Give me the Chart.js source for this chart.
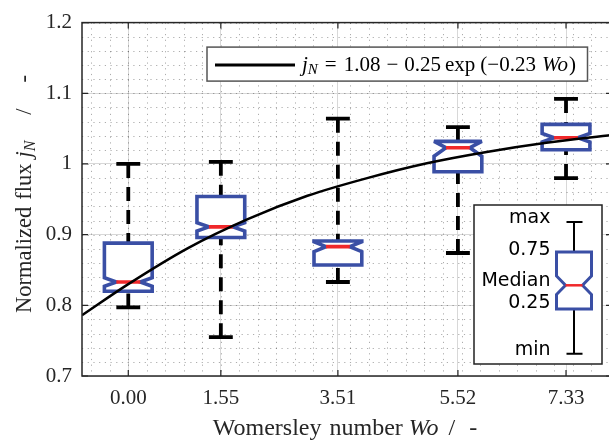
<!DOCTYPE html>
<html><head><meta charset="utf-8">
<script src="https://cdn.jsdelivr.net/npm/chart.js@4.4.1/dist/chart.umd.min.js"></script>
<style>html,body{margin:0;padding:0;overflow:hidden;background:#fff}#wrap{width:614px;height:441px}</style>
</head><body><div id="wrap"><canvas id="c" width="614" height="441"></canvas></div>
<script>
// ---- data ----
const categories = ['0.00', '1.55', '3.51', '5.52', '7.33'];
const womersley = [0, 1.55, 3.51, 5.52, 7.33];
const whiskerMax = [1.000, 1.003, 1.064, 1.052, 1.092];
const quart3 = [0.888, 0.954, 0.891, 1.032, 1.056];
const median = [0.833, 0.911, 0.883, 1.023, 1.037];
const quart1 = [0.820, 0.896, 0.857, 0.989, 1.020];
const whiskerMin = [0.797, 0.755, 0.833, 0.874, 0.980];
const notchHalf = [0.006, 0.006, 0.007, 0.012, 0.006];
const fitWo = [-0.775, 0, 1, 2, 3, 4, 5, 6, 7, 8.1];
const fitJn = [0.786, 0.830, 0.881, 0.922, 0.955, 0.980, 1.001, 1.017, 1.030, 1.041];
const yTicks = [0.7, 0.8, 0.9, 1.0, 1.1, 1.2];
const yTickLabels = ['0.7', '0.8', '0.9', '1', '1.1', '1.2'];
const keyLabels = ['max', '0.75', 'Median', '0.25', 'min'];
const minorStepX = 0.31, minorStepY = 0.02;

// ---- styles ----
const SERIF = "'Liberation Serif','Times New Roman',serif";
const SANS = "'DejaVu Sans',sans-serif";
const BLUE = '#3a4fa5', RED = '#f0282a', AXIS = '#262626';
const BOX_HALF = 0.4, CAP_HALF = 0.2;

function richWidth(ctx, segs) {
  let w = 0;
  for (const s of segs) { ctx.font = s.font; w += ctx.measureText(s.t).width + (s.gap || 0); }
  return w;
}
function drawRich(ctx, segs, x, y, align) {
  const w = richWidth(ctx, segs);
  let cx = align === 'center' ? x - w / 2 : align === 'right' ? x - w : x;
  for (const s of segs) {
    ctx.font = s.font;
    ctx.fillText(s.t, cx, y + (s.dy || 0));
    cx += ctx.measureText(s.t).width + (s.gap || 0);
  }
}

const boxPlugin = {
  id: 'boxes',
  beforeDatasetsDraw(chart) {
    const { ctx, chartArea: a, scales: { x, y } } = chart;
    ctx.save();
    ctx.beginPath(); ctx.rect(a.left, a.top, a.right - a.left, a.bottom - a.top); ctx.clip();
    // minor dotted grid
    ctx.strokeStyle = 'rgba(0,0,0,0.32)'; ctx.lineWidth = 1; ctx.setLineDash([1.2, 4.5]);
    for (let k = Math.ceil(x.min / minorStepX); k * minorStepX <= x.max; k++) {
      const px = Math.round(x.getPixelForValue(k * minorStepX)) + 0.5;
      ctx.beginPath(); ctx.moveTo(px, a.top); ctx.lineTo(px, a.bottom); ctx.stroke();
    }
    for (let k = Math.ceil(y.min / minorStepY - 1e-6); k * minorStepY <= y.max + 1e-9; k++) {
      const py = Math.round(y.getPixelForValue(k * minorStepY)) + 0.5;
      ctx.beginPath(); ctx.moveTo(a.left, py); ctx.lineTo(a.right, py); ctx.stroke();
    }
    ctx.setLineDash([]);
    // box plots
    for (let i = 0; i < womersley.length; i++) {
      const xc = x.getPixelForValue(womersley[i]);
      const xl = x.getPixelForValue(womersley[i] - BOX_HALF);
      const xr = x.getPixelForValue(womersley[i] + BOX_HALF);
      const cl = x.getPixelForValue(womersley[i] - CAP_HALF);
      const cr = x.getPixelForValue(womersley[i] + CAP_HALF);
      const inset = (xr - xl) / 4;
      const yMax = y.getPixelForValue(whiskerMax[i]), yMin = y.getPixelForValue(whiskerMin[i]);
      const y3 = y.getPixelForValue(quart3[i]), y1 = y.getPixelForValue(quart1[i]);
      const ym = y.getPixelForValue(median[i]);
      const yn1 = y.getPixelForValue(Math.min(median[i] + notchHalf[i], quart3[i]));
      const yn2 = y.getPixelForValue(Math.max(median[i] - notchHalf[i], quart1[i]));
      ctx.strokeStyle = '#000'; ctx.lineWidth = 3.8; ctx.lineCap = 'butt';
      ctx.setLineDash([14, 9]);
      ctx.beginPath(); ctx.moveTo(xc, yMax); ctx.lineTo(xc, y3); ctx.stroke();
      ctx.beginPath(); ctx.moveTo(xc, yMin); ctx.lineTo(xc, y1); ctx.stroke();
      ctx.setLineDash([]);
      ctx.beginPath(); ctx.moveTo(cl, yMax); ctx.lineTo(cr, yMax); ctx.stroke();
      ctx.beginPath(); ctx.moveTo(cl, yMin); ctx.lineTo(cr, yMin); ctx.stroke();
      ctx.beginPath();
      ctx.moveTo(xl, y3); ctx.lineTo(xl, yn1); ctx.lineTo(xl + inset, ym); ctx.lineTo(xl, yn2); ctx.lineTo(xl, y1);
      ctx.lineTo(xr, y1); ctx.lineTo(xr, yn2); ctx.lineTo(xr - inset, ym); ctx.lineTo(xr, yn1); ctx.lineTo(xr, y3);
      ctx.closePath();
      ctx.fillStyle = '#fff'; ctx.fill();
      ctx.strokeStyle = BLUE; ctx.lineWidth = 3.6; ctx.lineJoin = 'miter'; ctx.miterLimit = 3; ctx.stroke();
      ctx.strokeStyle = RED; ctx.lineWidth = 3.6;
      ctx.beginPath(); ctx.moveTo(xl + inset, ym); ctx.lineTo(xr - inset, ym); ctx.stroke();
    }
    ctx.restore();
  },
  afterDraw(chart) {
    const { ctx, chartArea: a, scales: { x, y } } = chart;
    ctx.save();
    // frame
    ctx.strokeStyle = AXIS; ctx.lineWidth = 1.5;
    ctx.strokeRect(a.left, a.top, a.right - a.left, a.bottom - a.top);
    // inward ticks
    ctx.lineWidth = 1.2;
    for (const v of womersley) {
      const px = x.getPixelForValue(v);
      ctx.beginPath(); ctx.moveTo(px, a.bottom); ctx.lineTo(px, a.bottom - 6);
      ctx.moveTo(px, a.top); ctx.lineTo(px, a.top + 6); ctx.stroke();
    }
    for (const v of yTicks) {
      const py = y.getPixelForValue(v);
      ctx.beginPath(); ctx.moveTo(a.left, py); ctx.lineTo(a.left + 6, py);
      ctx.moveTo(a.right, py); ctx.lineTo(a.right - 6, py); ctx.stroke();
    }
    // fit legend
    const lx = a.left + 125, ly = a.top + 24.5, lw = 380.5, lh = 34;
    ctx.fillStyle = '#fff'; ctx.fillRect(lx, ly, lw, lh);
    ctx.strokeStyle = '#555'; ctx.lineWidth = 1.5; ctx.strokeRect(lx, ly, lw, lh);
    ctx.strokeStyle = '#000'; ctx.lineWidth = 3;
    ctx.beginPath(); ctx.moveTo(lx + 8, ly + 18); ctx.lineTo(lx + 88, ly + 18); ctx.stroke();
    ctx.fillStyle = '#000'; ctx.textBaseline = 'alphabetic';
    const F = 21;
    drawRich(ctx, [
      { t: 'j', font: `italic ${F}px ${SERIF}` },
      { t: 'N', font: `italic ${Math.round(F * 0.7)}px ${SERIF}`, dy: 3, gap: 7 },
      { t: '=', font: `${F}px ${SERIF}`, gap: 7 },
      { t: '1.08', font: `${F}px ${SERIF}`, gap: 6 },
      { t: '\u2212', font: `${F}px ${SERIF}`, gap: 6 },
      { t: '0.25', font: `${F}px ${SERIF}`, gap: 4 },
      { t: 'exp', font: `${F}px ${SERIF}`, gap: 5 },
      { t: '(\u22120.23', font: `${F}px ${SERIF}`, gap: 6 },
      { t: 'Wo', font: `italic ${F}px ${SERIF}`, gap: 1 },
      { t: ')', font: `${F}px ${SERIF}` }
    ], lx + 95, ly + 24, 'left');
    // boxplot key
    const kx = 474, ky = 205, kw = 128, kh = 159;
    ctx.fillStyle = '#fff'; ctx.fillRect(kx, ky, kw, kh);
    ctx.strokeStyle = '#222'; ctx.lineWidth = 1.5; ctx.strokeRect(kx, ky, kw, kh);
    ctx.fillStyle = '#000'; ctx.font = `19px ${SANS}`; ctx.textAlign = 'right'; ctx.textBaseline = 'middle';
    const keyY = [218.5, 249.7, 281.3, 303.4, 350.4];
    keyLabels.forEach((t, i) => ctx.fillText(t, 550.5, keyY[i]));
    const wx = 574;
    ctx.strokeStyle = '#000'; ctx.lineWidth = 2;
    ctx.beginPath();
    ctx.moveTo(wx, 221.9); ctx.lineTo(wx, 252); ctx.moveTo(566.5, 221.9); ctx.lineTo(582.5, 221.9);
    ctx.moveTo(wx, 309); ctx.lineTo(wx, 353.8); ctx.moveTo(566.5, 353.8); ctx.lineTo(582.5, 353.8);
    ctx.stroke();
    ctx.beginPath();
    ctx.moveTo(556.5, 252); ctx.lineTo(556.5, 276); ctx.lineTo(565.5, 285.3); ctx.lineTo(556.5, 294.5); ctx.lineTo(556.5, 309);
    ctx.lineTo(591.5, 309); ctx.lineTo(591.5, 294.5); ctx.lineTo(582.5, 285.3); ctx.lineTo(591.5, 276); ctx.lineTo(591.5, 252);
    ctx.closePath();
    ctx.strokeStyle = BLUE; ctx.lineWidth = 3; ctx.stroke();
    ctx.strokeStyle = RED; ctx.lineWidth = 2.5;
    ctx.beginPath(); ctx.moveTo(565.5, 285.3); ctx.lineTo(582.5, 285.3); ctx.stroke();
    // axis titles
    ctx.fillStyle = '#262626'; ctx.textAlign = 'left'; ctx.textBaseline = 'alphabetic';
    const T = 24;
    drawRich(ctx, [
      { t: 'Womersley', font: `${T}px ${SERIF}`, gap: 8 },
      { t: 'number', font: `${T}px ${SERIF}`, gap: 6 },
      { t: 'Wo', font: `italic ${T}px ${SERIF}`, gap: 10 },
      { t: '/', font: `${T}px ${SERIF}`, gap: 14 },
      { t: '-', font: `${T}px ${SERIF}` }
    ], 345, 435, 'center');
    ctx.save();
    ctx.translate(31, 313); ctx.rotate(-Math.PI / 2);
    const Y = 22.5;
    drawRich(ctx, [
      { t: 'Normalized', font: `${Y}px ${SERIF}`, gap: 7 },
      { t: 'flux', font: `${Y}px ${SERIF}`, gap: 6 },
      { t: 'j', font: `italic ${Y}px ${SERIF}` },
      { t: 'N', font: `italic ${Math.round(Y * 0.7)}px ${SERIF}`, dy: 4, gap: 26 },
      { t: '/', font: `${Y}px ${SERIF}`, gap: 26 },
      { t: '-', font: `${Y}px ${SERIF}` }
    ], 0, 0, 'left');
    ctx.restore();
    ctx.restore();
  }
};

new Chart(document.getElementById('c'), {
  type: 'line',
  data: {
    datasets: [{
      data: fitWo.map((w, i) => ({ x: w, y: fitJn[i] })),
      borderColor: '#000', borderWidth: 2.5, pointRadius: 0,
      cubicInterpolationMode: 'monotone', fill: false
    }]
  },
  options: {
    responsive: false, animation: false, devicePixelRatio: 1, events: [],
    layout: { padding: { top: 20, right: 2, left: 0, bottom: 0 } },
    plugins: { legend: { display: false }, tooltip: { enabled: false } },
    scales: {
      x: {
        type: 'linear', min: -0.775, max: 8.1,
        afterBuildTicks: s => { s.ticks = womersley.map(v => ({ value: v })); },
        afterFit: s => { s.height = 65; },
        ticks: { autoSkip: false, maxRotation: 0, padding: 10, color: AXIS,
          font: { family: SERIF, size: 21 }, callback: (v, i) => categories[i] },
        grid: { color: '#d8d8d8', lineWidth: 1, drawTicks: false },
        border: { display: false }
      },
      y: {
        min: 0.7, max: 1.2,
        afterBuildTicks: s => { s.ticks = yTicks.map(v => ({ value: v })); },
        afterFit: s => { s.width = 82; },
        ticks: { autoSkip: false, padding: 10, color: AXIS,
          font: { family: SERIF, size: 21 }, callback: (v, i) => yTickLabels[i] },
        grid: { color: '#d8d8d8', lineWidth: 1, drawTicks: false },
        border: { display: false }
      }
    }
  },
  plugins: [boxPlugin]
});
</script>
</body></html>
